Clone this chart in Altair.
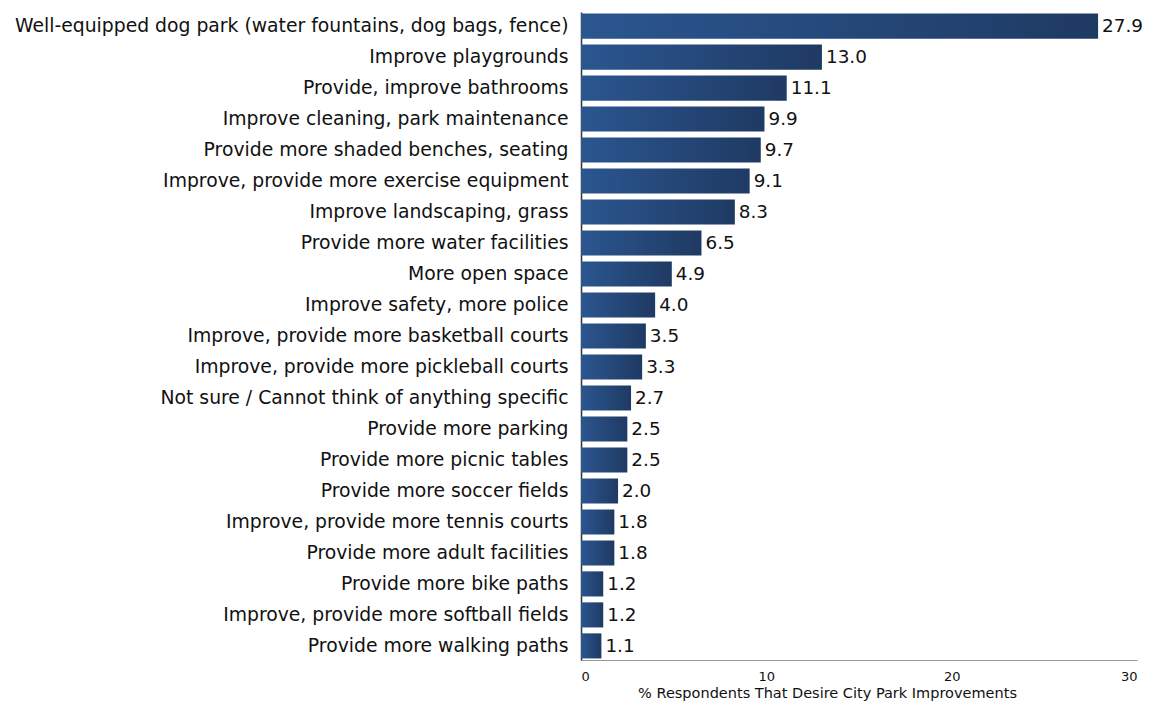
import altair as alt
import pandas as pd

categories = [
    "Well-equipped dog park (water fountains, dog bags, fence)",
    "Improve playgrounds",
    "Provide, improve bathrooms",
    "Improve cleaning, park maintenance",
    "Provide more shaded benches, seating",
    "Improve, provide more exercise equipment",
    "Improve landscaping, grass",
    "Provide more water facilities",
    "More open space",
    "Improve safety, more police",
    "Improve, provide more basketball courts",
    "Improve, provide more pickleball courts",
    "Not sure / Cannot think of anything specific",
    "Provide more parking",
    "Provide more picnic tables",
    "Provide more soccer fields",
    "Improve, provide more tennis courts",
    "Provide more adult facilities",
    "Provide more bike paths",
    "Improve, provide more softball fields",
    "Provide more walking paths",
]
values = [27.9, 13.0, 11.1, 9.9, 9.7, 9.1, 8.3, 6.5, 4.9, 4.0, 3.5, 3.3, 2.7, 2.5, 2.5, 2.0, 1.8, 1.8, 1.2, 1.2, 1.1]
x_ticks = [0, 10, 20, 30]

df = pd.DataFrame({"cat": categories, "val": values})
df["label"] = df["val"].map(lambda v: f"{v:.1f}")

FONT = "DejaVu Sans"

y_enc = alt.Y("cat:N", sort=categories, title=None,
              scale=alt.Scale(paddingInner=0.19, paddingOuter=0.05),
              axis=alt.Axis(labelFont=FONT, labelFontSize=18.8, labelColor="#111",
                            labelPadding=13, ticks=False, domainColor="#333",
                            domainWidth=1.5, labelLimit=800))

x_enc = alt.X("val:Q", title="% Respondents That Desire City Park Improvements",
              scale=alt.Scale(domain=[0, 30], nice=False),
              axis=alt.Axis(values=x_ticks, grid=False, ticks=False,
                            domainColor="#999", labelFont=FONT, labelFontSize=13,
                            labelColor="#111", labelPadding=10,
                            titleFont=FONT, titleFontSize=14.5, titleFontWeight="normal",
                            titleColor="#111", titleX=246, titleY=26,
                            titleAlign="center", titleBaseline="top"))

grad = alt.Gradient(gradient="linear", x1=0, y1=0, x2=1, y2=0,
                    stops=[alt.GradientStop(color="#2b5690", offset=0),
                           alt.GradientStop(color="#1f3a63", offset=1)])

bars = alt.Chart(df).mark_bar(color=grad).encode(y=y_enc, x=x_enc)
text = alt.Chart(df).mark_text(align="left", baseline="middle", dx=4,
                               font=FONT, fontSize=18.4, color="#111").encode(
    y=alt.Y("cat:N", sort=categories), x="val:Q", text="label:N")

chart = (bars + text).properties(
    width=556, height=648,
    autosize=alt.AutoSizeParams(type="none"),
    padding={"left": 573, "top": 4, "right": 6, "bottom": 43},
).configure_view(stroke=None)

chart.save("out.html", embed_options={"renderer": "svg", "actions": False})
